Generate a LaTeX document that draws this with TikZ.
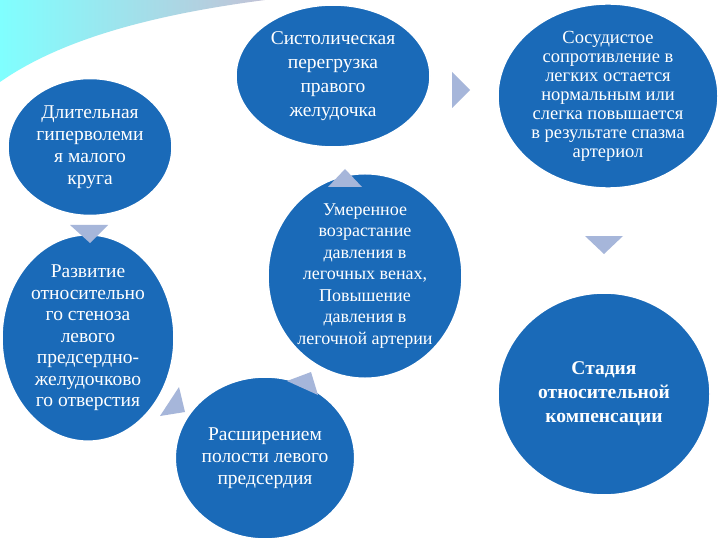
\documentclass[tikz,border=0pt]{standalone}
\usepackage{fontspec}
\setmainfont{Liberation Serif}
\definecolor{cb}{HTML}{1A6AB8}
\definecolor{tr}{HTML}{A6B6DA}
\begin{document}
\begin{tikzpicture}[x=1pt,y=-1pt,
  bub/.style={ellipse,draw=white,line width=1.5pt,fill=cb,text=white,align=center,font=\fontsize{19.5}{22}\selectfont,inner sep=0pt},
  tri/.style={fill=tr,draw=none}]
\usetikzlibrary{shapes.geometric}
\useasboundingbox (0,0) rectangle (720,540);
\fill[white] (0,0) rectangle (720,540);
\shade[left color=cyan!50!white, right color=blue!20!gray!40!white] (0,0) -- (0,82) .. controls (60,40) and (150,15) .. (265,0) -- cycle;
\node[bub,minimum width=164,minimum height=137] (a) at (90,147) {Длительная\\гиперволеми\\я малого\\круга};
\node[bub,minimum width=194,minimum height=142,font=\fontsize{19.5}{24}\selectfont] (b) at (333,76) {Систолическая\\перегрузка\\правого\\желудочка};
\node[bub,minimum width=220,minimum height=170,font=\fontsize{18.5}{19}\selectfont] (c) at (608,96) {Сосудистое\\сопротивление в\\легких остается\\нормальным или\\слегка повышается\\в результате спазма\\артериол};
\node[bub,minimum width=194,minimum height=172,font=\fontsize{18}{21.5}\selectfont] (d) at (365,276) {Умеренное\\возрастание\\давления в\\легочных венах,\\Повышение\\давления в\\легочной артерии};
\node[bub,minimum width=172,minimum height=196,font=\fontsize{19.5}{21.5}\selectfont] (e) at (88,338) {Развитие\\относительно\\го стеноза\\левого\\предсердно-\\желудочково\\го отверстия};
\node[bub,minimum width=172,minimum height=162] (f) at (265,458) {Расширением\\полости левого\\предсердия};
\node[bub,minimum width=212,minimum height=202,font=\bfseries\fontsize{19.5}{24}\selectfont] (g) at (604,394) {Стадия\\относительной\\компенсации};
\fill[tri] (70,225) -- (108,225) -- (90,243) -- cycle;
\fill[tri] (452,72) -- (470,90) -- (452,108) -- cycle;
\fill[tri] (585,236) -- (623,236) -- (604,254) -- cycle;
\fill[tri] (328,187) -- (362,187) -- (345,169) -- cycle;
\fill[tri] (287,381) -- (311,372) -- (318,395) -- cycle;
\fill[tri] (179,387) -- (160,416) -- (185,412) -- cycle;
\end{tikzpicture}
\end{document}
